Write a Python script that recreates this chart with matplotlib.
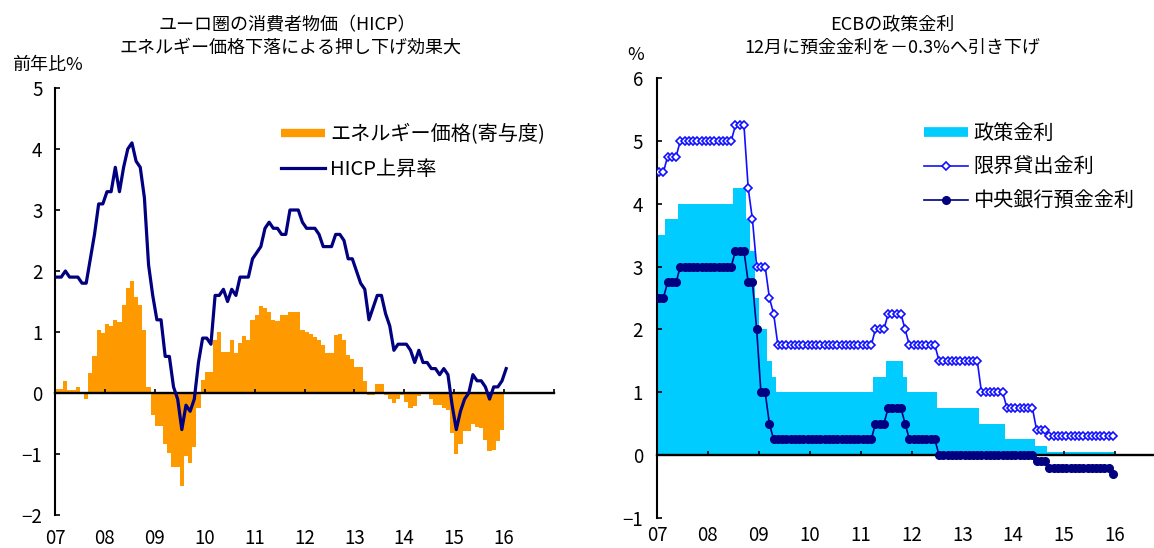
import numpy as np
import matplotlib

matplotlib.use("Agg")
import matplotlib.pyplot as plt
from matplotlib.lines import Line2D

plt.rcParams['font.family'] = ['Noto Sans CJK JP', 'DejaVu Sans']

# ---- left: euro area HICP, monthly from Jan 2007 ----
hicp = [
    1.9, 1.9, 2.0, 1.9, 1.9, 1.9, 1.8, 1.8, 2.2, 2.6, 3.1, 3.1,      # 2007
    3.3, 3.3, 3.7, 3.3, 3.7, 4.0, 4.1, 3.8, 3.7, 3.2, 2.1, 1.6,      # 2008
    1.2, 1.2, 0.6, 0.6, 0.1, -0.1, -0.6, -0.2, -0.3, -0.1, 0.5, 0.9,  # 2009
    0.9, 0.8, 1.6, 1.6, 1.7, 1.5, 1.7, 1.6, 1.9, 1.9, 1.9, 2.2,      # 2010
    2.3, 2.4, 2.7, 2.8, 2.7, 2.7, 2.6, 2.6, 3.0, 3.0, 3.0, 2.8,      # 2011
    2.7, 2.7, 2.7, 2.6, 2.4, 2.4, 2.4, 2.6, 2.6, 2.5, 2.2, 2.2,      # 2012
    2.0, 1.8, 1.7, 1.2, 1.4, 1.6, 1.6, 1.3, 1.1, 0.7, 0.8, 0.8,      # 2013
    0.8, 0.7, 0.5, 0.7, 0.5, 0.5, 0.4, 0.4, 0.3, 0.4, 0.3, -0.2,     # 2014
    -0.6, -0.3, -0.1, 0.0, 0.3, 0.2, 0.2, 0.1, -0.1, 0.1, 0.1, 0.2,  # 2015
    0.4,                                                             # 2016-01
]
energy = [
    0.07, 0.07, 0.2, 0.05, 0.05, 0.1, 0.02, -0.1, 0.33, 0.6, 1.03, 0.98,
    1.13, 1.1, 1.2, 1.17, 1.45, 1.72, 1.84, 1.58, 1.44, 1.03, 0.1, -0.36,
    -0.54, -0.54, -0.84, -0.99, -1.21, -1.21, -1.52, -1.04, -1.14, -0.89, -0.25, 0.21,
    0.35, 0.35, 0.87, 1.0, 0.68, 0.68, 0.87, 0.65, 0.82, 0.93, 0.87, 1.2,
    1.28, 1.42, 1.39, 1.33, 1.2, 1.18, 1.28, 1.28, 1.33, 1.33, 1.33, 1.03,
    1.0, 0.97, 0.92, 0.87, 0.79, 0.65, 0.65, 0.95, 0.97, 0.87, 0.62, 0.55,
    0.43, 0.43, 0.19, -0.03, -0.03, 0.15, 0.15, -0.03, -0.1, -0.17, -0.1, -0.03,
    -0.14, -0.25, -0.22, -0.05, -0.02, 0.0, -0.1, -0.2, -0.2, -0.25, -0.28, -0.66,
    -1.0, -0.84, -0.63, -0.62, -0.51, -0.56, -0.57, -0.77, -0.95, -0.93, -0.78, -0.61,
]

# ---- right: ECB rates, month-end, Jan 2007 - Dec 2015 (value, n months) ----
mro_rates = [3.5, 3.75, 4.0, 4.25, 3.75, 3.25, 2.5, 2.0, 1.5, 1.25, 1.0, 1.25, 1.5,
             1.25, 1.0, 0.75, 0.5, 0.25, 0.15, 0.05]
mro_months = [2, 3, 13, 3, 1, 1, 1, 2, 1, 1, 23, 3, 4, 1, 7, 10, 6, 7, 3, 16]
mlf_rates = [4.5, 4.75, 5.0, 5.25, 4.25, 3.75, 3.0, 2.5, 2.25, 1.75, 2.0, 2.25, 2.0,
             1.75, 1.5, 1.0, 0.75, 0.4, 0.3]
mlf_months = [2, 3, 13, 3, 1, 1, 3, 1, 1, 23, 3, 4, 1, 7, 10, 6, 7, 3, 16]
df_rates = [2.5, 2.75, 3.0, 3.25, 2.75, 2.0, 1.0, 0.5, 0.25, 0.5, 0.75, 0.5, 0.25,
            0.0, -0.1, -0.2, -0.3]
df_months = [2, 3, 13, 3, 2, 1, 2, 1, 24, 3, 4, 1, 7, 23, 3, 15, 1]

years = list(range(2007, 2017))
year_labels = ["07", "08", "09", "10", "11", "12", "13", "14", "15", "16"]

ORANGE = "#FF9900"
NAVY = "#000080"
CYAN = "#00CCFF"
BLUE = "#1010FF"
FS = 13       # titles
FS_TICK = 13.5
FS_LEG = 14.5  # legends

mro = np.repeat(mro_rates, mro_months)
mlf = np.repeat(mlf_rates, mlf_months)
dfr = np.repeat(df_rates, df_months)

W, H = 1154, 548
fig = plt.figure(figsize=(W / 100, H / 100), dpi=100)


def fx(px):
    return px / W


def fy(py):
    return 1 - py / H


def style_axes(ax, ypad, xpad):
    ax.spines["top"].set_visible(False)
    ax.spines["right"].set_visible(False)
    ax.spines["left"].set_linewidth(1.5)
    ax.spines["bottom"].set_position(("data", 0))
    ax.spines["bottom"].set_linewidth(1.7)
    ax.set_xlim(2007, 2017)
    ax.set_xticks(range(2007, 2018))
    ax.tick_params(axis="x", direction="in", length=3.2, width=1.2, labelbottom=False)
    ax.tick_params(axis="y", direction="in", length=3.8, width=1.2, pad=ypad, labelsize=FS_TICK)
    # year labels sit under the plot frame, not on the zero line
    sec = ax.secondary_xaxis("bottom")
    sec.set_xticks(years, year_labels)
    sec.tick_params(length=0, pad=xpad, labelsize=FS_TICK)
    sec.spines["bottom"].set_visible(False)


# left chart
ax1 = fig.add_axes([fx(55), fy(515), fx(554) - fx(55), fy(88) - fy(515)])
edges1 = 2007 + np.arange(len(energy) + 1) / 12
ax1.stairs(energy, edges1, baseline=0, fill=True, color=ORANGE, lw=0)
x_hicp = 2007 + (np.arange(len(hicp)) + 0.5) / 12
ax1.plot(x_hicp, hicp, color=NAVY, lw=2.3, zorder=3)
ax1.set_ylim(-2, 5)
ax1.set_yticks(range(-2, 6))
style_axes(ax1, 9, 9)

h1 = [Line2D([], [], color=ORANGE, lw=6, solid_capstyle="butt"),
      Line2D([], [], color=NAVY, lw=2.3)]
ax1.legend(h1, ["エネルギー価格(寄与度)", "HICP上昇率"], loc="upper left",
           bbox_to_anchor=(fx(281), fy(124)), bbox_transform=fig.transFigure,
           frameon=False, borderpad=0, borderaxespad=0, handlelength=2.2,
           handletextpad=0.25, labelspacing=0.7, fontsize=FS_LEG)

# right chart
ax2 = fig.add_axes([fx(657), fy(518), fx(1166) - fx(657), fy(78) - fy(518)])
edges2 = 2007 + np.arange(len(mro) + 1) / 12
ax2.stairs(mro, edges2, baseline=0, fill=True, color=CYAN, lw=0)
x_m = 2007 + (np.arange(len(mlf)) + 0.5) / 12
ax2.plot(x_m, mlf, color=BLUE, lw=1.2, marker="D", ms=4, mfc="white",
         mec=BLUE, mew=1.2, zorder=3)
ax2.plot(x_m, dfr, color=NAVY, lw=1.2, marker="o", ms=5.5, mfc=NAVY,
         mec=NAVY, zorder=3)
ax2.set_ylim(-1, 6)
ax2.set_yticks(range(-1, 7))
style_axes(ax2, 10, 5)

h2 = [Line2D([], [], color=CYAN, lw=7, solid_capstyle="butt"),
      Line2D([], [], color=BLUE, lw=1.2, marker="D", ms=4, mfc="white", mec=BLUE, mew=1.2),
      Line2D([], [], color=NAVY, lw=1.2, marker="o", ms=5.5, mfc=NAVY, mec=NAVY)]
ax2.legend(h2, ["政策金利", "限界貸出金利", "中央銀行預金金利"], loc="upper left",
           bbox_to_anchor=(fx(924), fy(123)), bbox_transform=fig.transFigure,
           frameon=False, borderpad=0, borderaxespad=0, handlelength=2.2,
           handletextpad=0.25, labelspacing=0.65, fontsize=FS_LEG)

# titles and unit labels
fig.text(fx(287), fy(25), "ユーロ圏の消費者物価（HICP）", ha="center", va="center", fontsize=FS)
fig.text(fx(290), fy(48), "エネルギー価格下落による押し下げ効果大", ha="center", va="center", fontsize=FS)
fig.text(fx(892), fy(25), "ECBの政策金利", ha="center", va="center", fontsize=FS)
fig.text(fx(892), fy(48), "12月に預金金利を－0.3%へ引き下げ", ha="center", va="center", fontsize=FS)
fig.text(fx(12), fy(65), "前年比%", ha="left", va="center", fontsize=FS)
fig.text(fx(636), fy(55), "%", ha="center", va="center", fontsize=FS)

fig.savefig("out.png", dpi=100)
